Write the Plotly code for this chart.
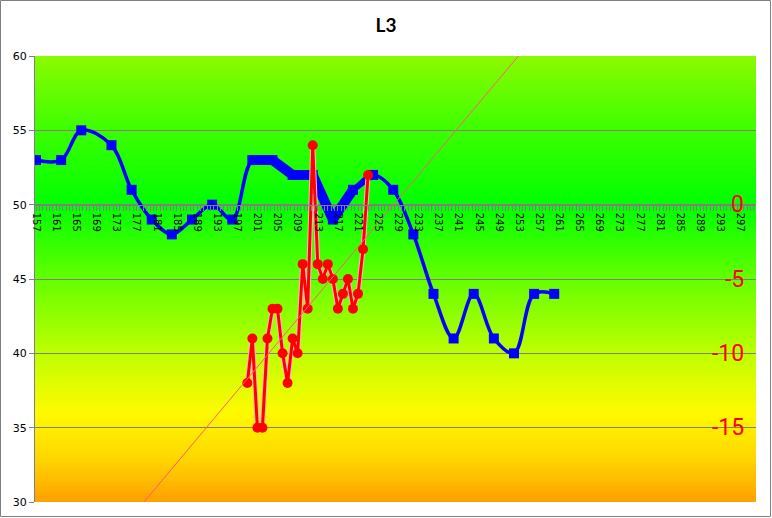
import numpy as np
import plotly.graph_objects as go

# ---------------- data ----------------
title_text = "L3"
x_tick_labels = list(range(157, 298, 4))

blue_x = [157, 162, 166, 172, 176, 180, 184, 188, 192, 196, 200, 204, 208,
          212, 216, 220, 224, 228, 232, 236, 240, 244, 248, 252, 256, 260]
blue_y = [53, 53, 55, 54, 51, 49, 48, 49, 50, 49, 53, 53, 52,
          52, 49, 51, 52, 51, 48, 44, 41, 44, 41, 40, 44, 44]

red_x = list(range(199, 224))
red_y = [-12, -9, -15, -15, -9, -7, -7, -10, -12, -9, -10, -4, -7, 4,
         -4, -5, -4, -5, -7, -6, -5, -7, -6, -3, 2]

left_ticks = [30, 35, 40, 45, 50, 55, 60]
right_ticks = [-15, -10, -5, 0]

# linear trendline of the red series (least squares), drawn across the chart
slope, intercept = np.polyfit(red_x, red_y, 1)
trend_x = np.array([150.0, 310.0])
trend_y = slope * trend_x + intercept

# ---------------- figure ----------------
W, H = 772, 518
ML, MR, MT, MB = 35, 16, 56, 16
pw = W - ML - MR
ph = H - MT - MB

fig = go.Figure()

# red series: light halo + red line with circle markers (right axis)
fig.add_trace(go.Scatter(x=red_x, y=red_y, yaxis="y2", mode="lines",
                         line=dict(color="#ffb8b8", width=5), hoverinfo="skip",
                         showlegend=False))
fig.add_trace(go.Scatter(x=red_x, y=red_y, yaxis="y2", mode="lines+markers",
                         line=dict(color="#ff0000", width=3),
                         marker=dict(symbol="circle", size=10, color="#ff0000"),
                         showlegend=False))

# trendline
fig.add_trace(go.Scatter(x=trend_x, y=trend_y, yaxis="y2", mode="lines",
                         line=dict(color="#ff5a78", width=1), showlegend=False))

# blue series: thick overlapping band, then smoothed line with square markers
fig.add_trace(go.Scatter(x=blue_x[10:16], y=blue_y[10:16], mode="lines",
                         line=dict(color="#0000ff", width=10), showlegend=False))
fig.add_trace(go.Scatter(x=blue_x[15:17], y=blue_y[15:17], mode="lines",
                         line=dict(color="#0000ff", width=6), showlegend=False))
fig.add_trace(go.Scatter(x=blue_x, y=blue_y, mode="lines+markers",
                         line=dict(color="#0000ff", width=3.5, shape="spline", smoothing=1),
                         marker=dict(symbol="square", size=10, color="#0000ff"),
                         showlegend=False))

# gradient background of the plot area (bands, below gridlines)
stops_v = [30, 33, 36, 40, 45, 50, 55, 60]
stops_c = [(255, 160, 0), (255, 215, 0), (255, 250, 0), (190, 255, 0),
           (100, 255, 0), (0, 255, 0), (60, 255, 0), (140, 250, 0)]
shapes = []
n = 150
edges = np.linspace(30, 60, n + 1)
for i in range(n):
    mid = 0.5 * (edges[i] + edges[i + 1])
    rgb = [int(round(np.interp(mid, stops_v, [c[k] for c in stops_c]))) for k in range(3)]
    top = min(edges[i + 1] + 0.15, 60)
    shapes.append(dict(type="rect", xref="paper", yref="y", x0=0, x1=1,
                       y0=edges[i], y1=top, layer="below",
                       line=dict(width=0), fillcolor="rgb(%d,%d,%d)" % tuple(rgb)))

# outer chart border
shapes.append(dict(type="rect", xref="paper", yref="paper",
                   x0=(0.5 - ML) / pw, x1=(W - 1.5 - ML) / pw,
                   y0=(H - MB - (H - 1.5)) / ph, y1=(H - MB - 0.5) / ph,
                   line=dict(color="#808080", width=1), layer="above"))

# right-axis labels, drawn inside the plot area at the right edge
annotations = [dict(text=str(v), xref="paper", x=1 - 10 / pw, xanchor="right",
                    yref="y2", y=v, yanchor="middle", showarrow=False,
                    font=dict(family="Roboto", size=23, color="#ff0000"))
               for v in right_ticks]

gray = "#808080"
fig.update_layout(
    width=W, height=H,
    margin=dict(l=ML, r=MR, t=MT, b=MB, pad=0, autoexpand=False),
    paper_bgcolor="white",
    plot_bgcolor="rgba(0,0,0,0)",
    shapes=shapes,
    annotations=annotations,
    showlegend=False,
    title=dict(text="<b>%s</b>" % title_text, x=0.5, xref="container",
               y=1 - 25 / H, yanchor="middle", yref="container",
               font=dict(family="Lato", size=19, color="black")),
    xaxis=dict(range=[156.8, 300.1], anchor="free", position=2 / 3,
               tickmode="array", tickvals=x_tick_labels,
               ticktext=[str(v) for v in x_tick_labels],
               tickangle=90, tickfont=dict(family="DejaVu Sans", size=10, color="black"),
               ticks="outside", ticklen=5, tickcolor=gray, tickwidth=1,
               minor=dict(tick0=157, dtick=2 / 3, ticks="outside", ticklen=5,
                          tickcolor=gray, tickwidth=1, showgrid=False),
               showline=True, linecolor=gray, linewidth=1,
               showgrid=False, zeroline=False),
    yaxis=dict(range=[30, 60], tickmode="array", tickvals=left_ticks,
               tickfont=dict(family="DejaVu Sans", size=11, color="black"),
               ticks="outside", ticklen=5, tickcolor=gray,
               showline=True, linecolor=gray, linewidth=1,
               showgrid=True, gridcolor=gray, gridwidth=1, zeroline=False),
    yaxis2=dict(range=[-20, 10], overlaying="y", side="right",
                showticklabels=False, ticks="",
                showgrid=False, zeroline=False, showline=False),
)

fig.write_html("out.html", config={"displayModeBar": False})

# remove the browser's default page margin so the chart sits at (0, 0)
with open("out.html", "r", encoding="utf-8") as f:
    html = f.read()
html = html.replace("<head>", "<head><style>html,body{margin:0;padding:0;overflow:hidden;}</style>", 1)
with open("out.html", "w", encoding="utf-8") as f:
    f.write(html)
